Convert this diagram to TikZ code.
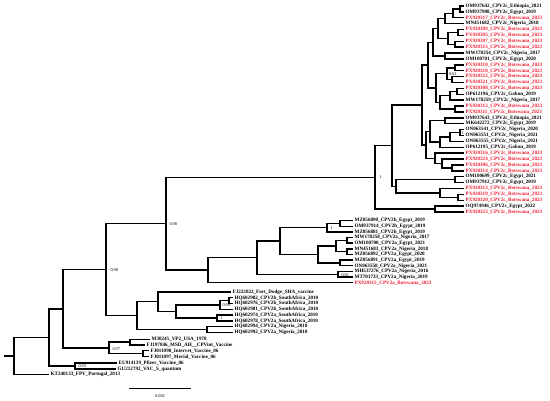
\documentclass[tikz,border=0pt]{standalone}
\usepackage{fontspec}
\setmainfont{Liberation Serif}
\usetikzlibrary{calc}
\definecolor{lred}{RGB}{240,30,50}
\newcommand\lf[5]{\coordinate (#1) at (#2,#3); \node[lbl,text=#4] (#1t) at (#2+1.2,#3) {#5};}
\newcommand\nd[4]{\path let \p1=($(#3)!0.5!(#4)$) in (#2pt,\y1) coordinate (#1); \draw[br] (#3) -| (#1) |- (#4);}
\begin{document}
\begin{tikzpicture}[x=1pt,y=-1pt,
  br/.style={line width=1.4pt,line join=miter},
  lbl/.style={font=\fontsize{5.1pt}{6pt}\selectfont\bfseries,inner sep=0.3pt,anchor=west},
  supp/.style={font=\fontsize{4.3pt}{5pt}\selectfont,inner sep=0.3pt,anchor=west}]
\useasboundingbox (0,0) rectangle (550,401);
% ---- top CPV2c clade leaves
\lf{t1}{464}{6.00}{black}{OM937642\_CPV2c\_Ethiopia\_2021}
\lf{t2}{464}{11.89}{black}{OM937908\_CPV2c\_Egypt\_2019}
\lf{t3}{464}{17.77}{lred}{PX920317\_CPV2c\_Botswana\_2023}
\lf{t4}{464}{23.66}{black}{MN451682\_CPV2c\_Nigeria\_2018}
\lf{t5}{464}{29.54}{lred}{PX920309\_CPV2c\_Botswana\_2023}
\lf{t6}{464}{35.43}{lred}{PX920305\_CPV2c\_Botswana\_2023}
\lf{t7}{464}{41.32}{lred}{PX920307\_CPV2c\_Botswana\_2023}
\lf{t8}{464}{47.20}{lred}{PX920315\_CPV2c\_Botswana\_2023}
\lf{t9}{464}{53.09}{black}{MW178254\_CPV2c\_Nigeria\_2017}
\lf{t10}{464}{58.97}{black}{OM100701\_CPV2c\_Egypt\_2020}
\lf{t11}{464}{64.86}{lred}{PX920310\_CPV2c\_Botswana\_2023}
\lf{t12}{464}{70.75}{lred}{PX920318\_CPV2c\_Botswana\_2023}
\lf{t13}{464}{76.63}{lred}{PX920322\_CPV2c\_Botswana\_2023}
\lf{t14}{464}{82.52}{lred}{PX920321\_CPV2c\_Botswana\_2023}
\lf{t15}{464}{88.40}{lred}{PX920308\_CPV2c\_Botswana\_2023}
\lf{t16}{464}{94.29}{black}{OP612196\_CPV2c\_Gabon\_2019}
\lf{t17}{464}{100.18}{black}{MW178259\_CPV2c\_Nigeria\_2017}
\lf{t18}{464}{106.06}{lred}{PX920312\_CPV2c\_Botswana\_2023}
\lf{t19}{464}{111.95}{lred}{PX920311\_CPV2c\_Botswana\_2023}
\lf{t20}{464}{117.83}{black}{OM937643\_CPV2c\_Ethiopia\_2021}
\lf{t21}{464}{123.72}{black}{MK642272\_CPV2c\_Egypt\_2019}
\lf{t22}{464}{129.61}{black}{ON063541\_CPV2c\_Nigeria\_2020}
\lf{t23}{464}{135.49}{black}{ON063551\_CPV2c\_Nigeria\_2021}
\lf{t24}{464}{141.38}{black}{ON063555\_CPV2c\_Nigeria\_2021}
\lf{t25}{464}{147.26}{black}{OP612195\_CPV2c\_Gabon\_2019}
\lf{t26}{464}{153.15}{lred}{PX920316\_CPV2c\_Botswana\_2023}
\lf{t27}{464}{159.04}{lred}{PX920324\_CPV2c\_Botswana\_2023}
\lf{t28}{464}{164.92}{lred}{PX920306\_CPV2c\_Botswana\_2023}
\lf{t29}{464}{170.81}{lred}{PX920314\_CPV2c\_Botswana\_2023}
\lf{t30}{464}{176.69}{black}{OM100699\_CPV2c\_Egypt\_2021}
\lf{t31}{464}{182.58}{black}{OM937912\_CPV2c\_Egypt\_2019}
\lf{t32}{464}{188.47}{lred}{PX920313\_CPV2c\_Botswana\_2023}
\lf{t33}{464}{194.35}{lred}{PX920319\_CPV2c\_Botswana\_2023}
\lf{t34}{464}{200.24}{lred}{PX920320\_CPV2c\_Botswana\_2023}
\lf{t35}{464}{206.12}{black}{OQ974946\_CPV2c\_Egypt\_2022}
\lf{t36}{464}{212.01}{lred}{PX920323\_CPV2c\_Botswana\_2023}
% ---- CPV2b / CPV2a leaves
\lf{mz890}{353}{220.7}{black}{MZ056890\_CPV2b\_Egypt\_2019}
\lf{om914}{353}{226.3}{black}{OM937914\_CPV2b\_Egypt\_2019}
\lf{mz881}{353}{231.9}{black}{MZ056881\_CPV2b\_Egypt\_2019}
\lf{mw258}{353}{237.6}{black}{MW178258\_CPV2a\_Nigeria\_2017}
\lf{om700}{353}{243.2}{black}{OM100700\_CPV2a\_Egypt\_2021}
\lf{mn683}{353}{248.9}{black}{MN451683\_CPV2a\_Nigeria\_2018}
\lf{mz892}{353}{254.5}{black}{MZ056892\_CPV2a\_Egypt\_2020}
\lf{mz891}{353}{260.2}{black}{MZ056891\_CPV2a\_Egypt\_2019}
\lf{on558}{353}{265.8}{black}{ON063558\_CPV2a\_Nigeria\_2021}
\lf{mh276}{353}{271.4}{black}{MH537276\_CPV2a\_Nigeria\_2016}
\lf{mt733}{353}{277.1}{black}{MT701733\_CPV2a\_Nigeria\_2019}
\lf{px2a}{353}{282.7}{lred}{PX920315\_CPV2a\_Botswana\_2023}
% ---- vaccine / South Africa leaves
\lf{fj822}{231}{292}{black}{FJ222822\_Fort\_Dodge\_SHA\_vaccine}
\lf{hq982}{233}{297.7}{black}{HQ602982\_CPV2b\_SouthAfrica\_2010}
\lf{hq976}{233}{303.3}{black}{HQ602976\_CPV2b\_SouthAfrica\_2010}
\lf{hq981}{233}{309.3}{black}{HQ602981\_CPV2b\_SouthAfrica\_2010}
\lf{hq974}{233}{315.0}{black}{HQ602974\_CPV2a\_SouthAfrica\_2010}
\lf{hq978}{233}{321.0}{black}{HQ602978\_CPV2a\_SouthAfrica\_2010}
\lf{hq994}{233}{326.7}{black}{HQ602994\_CPV2a\_Nigeria\_2010}
\lf{hq992}{233}{332.7}{black}{HQ602992\_CPV2a\_Nigeria\_2010}
\lf{m38}{150}{339.3}{black}{M38245\_VP2\_USA\_1978}
\lf{fj846}{145}{345.0}{black}{FJ197846\_MSD\_AH\_\_CPVint\_Vaccine}
\lf{fj098}{149}{350.7}{black}{FJ011098\_Intervet\_Vaccine\_06}
\lf{fj097}{149}{356.7}{black}{FJ011097\_Merial\_Vaccine\_06}
\lf{eu}{117}{363.0}{black}{EU914139\_Pfizer\_Vaccine\_06}
\lf{gu}{116}{369.0}{black}{GU212792\_VAC\_S\_quantum}
\lf{kt}{49}{374.7}{black}{KT240133\_FPV\_Portugal\_2013}
% ---- top clade internal nodes
\nd{c12}{460}{t1}{t2}
\nd{b3}{453}{c12}{t3}
\nd{a4}{445}{b3}{t4}
\nd{h56}{458}{t5}{t6}
\nd{i78}{455}{t7}{t8}
\nd{f58}{448}{h56}{i78}
\nd{AF}{438}{a4}{f58}
\nd{g910}{445}{t9}{t10}
\nd{G1}{433}{AF}{g910}
\nd{m1112}{455}{t11}{t12}
\nd{n1314}{452}{t13}{t14}
\nd{jj}{447}{m1112}{n1314}
\nd{p1516}{457}{t15}{t16}
\nd{oo}{450}{p1516}{t17}
\nd{qq}{455}{t18}{t19}
\nd{kk}{440}{oo}{qq}
\nd{G2}{436}{jj}{kk}
\nd{P1}{428}{G1}{G2}
\nd{t2021}{445}{t20}{t21}
\nd{ww}{460}{t22}{t23}
\nd{vv}{450}{ww}{t24}
\nd{uu}{440}{vv}{t25}
\nd{rr}{430}{t2021}{uu}
\nd{z2}{452}{t28}{t29}
\nd{zz}{442}{t27}{z2}
\nd{xx}{435}{t26}{zz}
\nd{P2}{426}{rr}{xx}
\nd{PP}{422}{P1}{P2}
\nd{bb}{455}{t30}{t31}
\nd{dd}{458}{t33}{t34}
\nd{cc}{440}{t32}{dd}
\nd{QQ}{396}{bb}{cc}
\nd{N1}{392}{PP}{QQ}
\nd{ee}{435}{t35}{t36}
\nd{AA}{375}{N1}{ee}
% ---- lower internal nodes
\nd{f890}{340}{mz890}{om914}
\nd{B2b}{327}{f890}{mz881}
\nd{f258}{347}{mw258}{om700}
\nd{f683}{347}{mn683}{mz892}
\nd{a1}{336}{f258}{f683}
\nd{a2}{340}{mz891}{on558}
\nd{n2a}{318}{a1}{a2}
\nd{U2}{280}{B2b}{n2a}
\nd{mhmt}{338}{mh276}{mt733}
\nd{U1}{257}{U2}{mhmt}
\nd{UU}{208}{U1}{px2a}
\nd{SS}{166}{AA}{UU}
\nd{h1e}{229}{hq982}{hq976}
\nd{h1c}{220}{h1e}{hq981}
\nd{h1d}{217}{hq974}{hq978}
\nd{h1b}{176}{h1c}{h1d}
\nd{h1}{158}{fj822}{h1b}
\nd{h2}{207}{hq994}{hq992}
\nd{HH}{137}{h1}{h2}
\nd{R3}{106}{SS}{HH}
\nd{v1}{130}{m38}{fj846}
\nd{v2}{143}{fj098}{fj097}
\nd{VAC}{109}{v1}{v2}
\nd{R2}{63}{R3}{VAC}
\nd{pvc}{75}{eu}{gu}
\nd{R1}{49}{R2}{pvc}
\nd{RR}{14}{R1}{kt}
\path (RR) ++(-10,0) coordinate (r0);
\draw[br] (r0) -- (RR);
% ---- support values
\node[supp] (sS) at ($(SS)+(3,0)$) {0.98};
\node[supp] (sR3) at ($(R3)+(4,0)$) {0.98};
\node[supp] (sA) at ($(AA)+(4,0)$) {1};
\node[supp] (sB) at ($(B2b)+(3,0)$) {1};
\node[supp] (smh) at ($(mhmt)+(3,0.5)$) {0.81};
\node[supp] (sh1c) at ($(h1c)+(2,0)$) {0.99};
\node[supp] (sh1d) at ($(h1d)+(3,0)$) {1};
\node[supp] (svac) at ($(VAC)+(3,1.2)$) {0.97};
\node[supp] (spvc) at ($(pvc)+(3,0.5)$) {0.93};
\node[supp] (sjj) at ($(jj)+(1.5,0)$) {0.63};
\node[supp] (sww) at ($(ww)+(1,0.5)$) {1};
% ---- scale bar
\coordinate (sb1) at (129,388);
\coordinate (sb2) at (191,388);
\draw[line width=0.7pt] (sb1) -- (sb2);
\node[supp,anchor=center] (sbl) at (160,396) {0.002};
\end{tikzpicture}
\end{document}
